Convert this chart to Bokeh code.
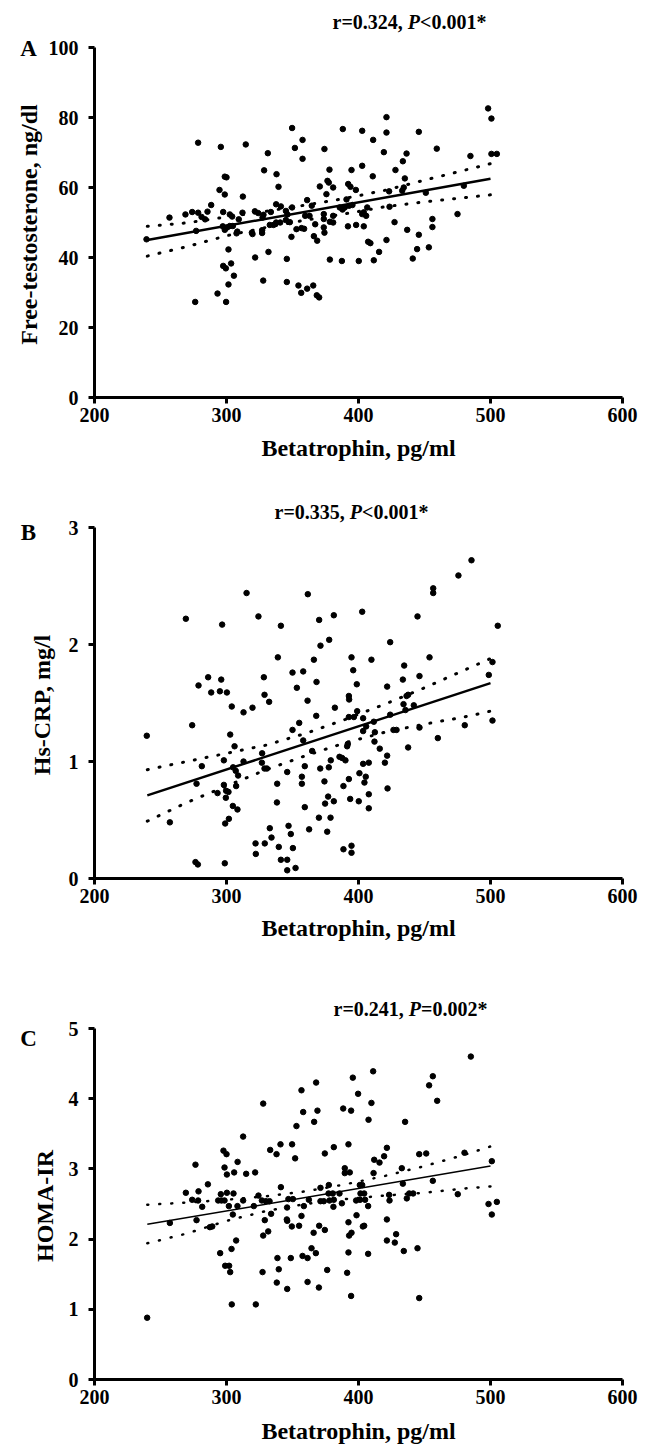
import math
from bokeh.plotting import figure
from bokeh.models import Range1d, Label
from bokeh.layouts import column
from bokeh.embed import file_html
from bokeh.resources import INLINE

FONT = "Liberation Serif"

x_ticks = [200, 300, 400, 500, 600]
a_y_ticks = [0, 20, 40, 60, 80, 100]
b_y_ticks = [0, 1, 2, 3]
c_y_ticks = [0, 1, 2, 3, 4, 5]

x_label = "Betatrophin, pg/ml"
a_label = "Free-testosterone, ng/dl"
b_label = "Hs-CRP, mg/l"
c_label = "HOMA-IR"

a_title = ["r=0.324, ", "P", "<0.001*"]
b_title = ["r=0.335, ", "P", "<0.001*"]
c_title = ["r=0.241, ", "P", "=0.002*"]

# Panel A: Free-testosterone
a_x = [239.4, 278.5, 295.7, 314.6, 349.7, 351.8, 357.6, 357.6, 374.2, 331.3, 328.5, 337.9, 339.4, 298.7, 300.0,
       294.7, 298.7, 312.4, 288.4, 285.6, 274.0, 278.5, 268.9, 256.8, 281.1, 283.8, 297.5, 302.5, 304.3, 309.3,
       312.1, 321.5, 324.0, 328.0, 327.3, 333.6, 337.6, 341.2, 345.0, 349.7, 346.2, 361.1, 364.6, 370.7, 277.0,
       297.2, 298.7, 300.5, 302.5, 304.8, 308.2, 307.6, 319.2, 319.7, 327.0, 327.0, 332.8, 335.6, 337.6, 340.7,
       345.0, 348.0, 353.0, 356.8, 358.8, 349.2, 366.2, 368.7, 367.2, 359.6, 362.9, 301.5, 321.7, 331.8, 345.7,
       297.5, 299.5, 303.5, 305.6, 301.5, 293.2, 299.7, 276.3, 327.8, 345.7, 354.5, 356.6, 361.1, 365.7, 368.4,
       370.2, 498.2, 500.7, 500.7, 504.8, 421.2, 421.2, 388.1, 402.8, 411.1, 445.7, 419.2, 459.3, 436.4, 433.6,
       484.8, 378.0, 394.7, 402.8, 428.0, 410.8, 435.1, 376.5, 377.5, 380.8, 392.2, 393.9, 398.0, 375.7, 423.2,
       433.1, 434.3, 479.8, 451.0, 390.9, 385.8, 387.9, 389.6, 392.9, 395.4, 404.0, 405.8, 402.8, 406.6, 423.5,
       373.7, 373.7, 380.8, 380.8, 378.3, 392.0, 398.2, 404.0, 373.7, 374.2, 427.3, 475.0, 456.0, 456.0, 436.9,
       445.7, 407.3, 409.0, 421.2, 415.6, 444.4, 453.3, 441.1, 378.3, 387.4, 400.2, 411.6]
a_y = [45.2, 72.8, 71.6, 72.3, 77.0, 71.3, 73.6, 68.2, 71.0, 69.8, 64.9, 63.8, 60.2, 63.1, 62.9,
       59.3, 58.0, 57.4, 55.0, 53.1, 53.0, 52.8, 52.3, 51.4, 51.6, 50.9, 53.0, 52.3, 51.7, 50.9,
       52.8, 53.2, 52.7, 52.2, 51.4, 53.0, 55.2, 54.6, 53.3, 54.3, 52.3, 56.4, 54.8, 60.3, 47.6,
       48.9, 47.9, 48.6, 49.0, 49.0, 47.4, 46.9, 47.1, 46.7, 47.8, 47.0, 49.3, 49.3, 50.0, 50.0,
       50.7, 50.1, 48.1, 48.4, 48.2, 45.9, 46.1, 44.8, 49.5, 51.9, 51.9, 42.3, 40.0, 41.6, 39.6,
       37.6, 36.9, 38.3, 34.8, 32.3, 29.7, 27.3, 27.3, 33.4, 33.0, 32.0, 29.9, 31.1, 32.0, 29.2,
       28.6, 82.6, 79.7, 69.6, 69.6, 80.1, 75.7, 76.7, 76.2, 73.6, 75.9, 70.1, 71.1, 69.7, 67.5,
       69.0, 65.1, 65.0, 66.2, 65.0, 63.2, 62.6, 61.9, 61.4, 60.0, 61.0, 60.2, 59.3, 58.1, 58.9,
       59.1, 60.0, 60.5, 58.5, 56.6, 54.3, 53.7, 54.3, 54.8, 55.0, 52.9, 51.9, 52.4, 54.3, 54.5,
       52.4, 51.0, 51.9, 50.0, 50.2, 48.9, 49.3, 48.9, 48.6, 47.1, 50.1, 52.4, 51.0, 48.7, 47.9,
       46.5, 44.5, 44.1, 45.0, 41.6, 42.4, 42.9, 39.7, 39.4, 39.0, 39.0, 39.2]

# Panel B: Hs-CRP
b_x = [239.6, 269.2, 296.7, 315.2, 324.2, 341.2, 361.6, 370.2, 377.8, 371.2, 338.9, 366.2, 350.0, 358.1, 328.3,
       353.3, 368.2, 361.4, 278.8, 286.1, 296.0, 288.4, 295.0, 300.3, 304.0, 312.9, 319.7, 328.8, 332.3, 274.0,
       302.8, 306.1, 355.1, 350.0, 358.1, 368.0, 364.9, 327.0, 326.8, 328.8, 330.6, 312.9, 298.0, 305.0, 307.0,
       308.8, 307.3, 298.0, 299.7, 301.5, 299.5, 293.2, 281.3, 277.3, 304.8, 308.3, 301.8, 299.0, 257.1, 338.4,
       338.2, 346.0, 357.1, 357.1, 359.3, 371.0, 359.3, 362.6, 370.0, 332.8, 322.0, 329.0, 334.1, 322.2, 347.0,
       348.7, 339.6, 350.3, 341.2, 346.0, 346.0, 352.3, 276.5, 278.3, 298.7, 485.6, 475.7, 456.6, 456.6, 505.5,
       444.7, 402.8, 381.3, 424.0, 394.7, 409.8, 453.8, 396.0, 434.6, 501.5, 498.7, 398.7, 446.2, 433.6, 392.7,
       392.9, 421.7, 437.6, 436.4, 434.1, 435.6, 441.9, 382.1, 399.0, 392.7, 396.5, 403.5, 424.0, 411.6, 412.4,
       403.5, 405.8, 426.5, 428.8, 446.2, 480.5, 501.5, 460.1, 437.6, 412.1, 416.1, 391.9, 391.4, 385.6, 387.6,
       390.1, 379.0, 377.5, 421.7, 420.0, 403.5, 407.8, 374.2, 392.7, 388.6, 400.7, 405.5, 404.5, 422.0, 377.0,
       374.7, 381.3, 393.7, 400.2, 407.8, 407.8, 378.8, 376.3, 388.6, 394.7, 394.7]
b_y = [1.22, 2.22, 2.17, 2.44, 2.24, 2.16, 2.43, 2.21, 2.04, 1.99, 1.89, 1.87, 1.76, 1.77, 1.72,
       1.63, 1.68, 1.52, 1.65, 1.72, 1.70, 1.59, 1.60, 1.59, 1.47, 1.42, 1.46, 1.57, 1.51, 1.31,
       1.23, 1.13, 1.33, 1.27, 1.18, 1.39, 1.09, 1.07, 0.99, 0.94, 0.94, 1.00, 1.01, 0.95, 0.92,
       0.88, 0.79, 0.80, 0.75, 0.74, 0.69, 0.73, 0.96, 0.81, 0.62, 0.59, 0.51, 0.47, 0.48, 0.81,
       0.65, 0.91, 0.87, 0.81, 0.96, 0.94, 0.61, 0.42, 0.52, 0.43, 0.30, 0.30, 0.35, 0.21, 0.45,
       0.38, 0.27, 0.26, 0.16, 0.16, 0.07, 0.09, 0.14, 0.12, 0.13, 2.72, 2.59, 2.48, 2.44, 2.16,
       2.24, 2.28, 2.25, 2.02, 1.89, 1.87, 1.89, 1.78, 1.82, 1.85, 1.74, 1.66, 1.73, 1.70, 1.56,
       1.53, 1.64, 1.57, 1.56, 1.49, 1.44, 1.48, 1.46, 1.43, 1.38, 1.38, 1.37, 1.40, 1.34, 1.25,
       1.26, 1.30, 1.27, 1.27, 1.29, 1.31, 1.35, 1.20, 1.12, 1.17, 1.11, 1.15, 1.13, 1.04, 1.03,
       1.01, 1.01, 0.95, 1.05, 0.99, 0.98, 0.99, 0.83, 0.85, 0.79, 0.90, 0.87, 0.82, 0.77, 0.70,
       0.64, 0.66, 0.68, 0.66, 0.72, 0.60, 0.52, 0.40, 0.25, 0.28, 0.22]

# Panel C: HOMA-IR
c_x = [239.9, 367.9, 356.8, 358.1, 368.9, 366.4, 353.0, 327.8, 312.6, 333.1, 337.9, 340.9, 349.7, 352.0, 374.5,
       297.7, 300.0, 276.5, 298.5, 300.3, 305.8, 308.4, 314.9, 321.7, 285.9, 269.2, 278.8, 274.0, 278.5, 281.6,
       295.7, 300.3, 305.3, 293.7, 296.2, 298.5, 301.8, 308.3, 304.8, 312.6, 324.2, 326.8, 329.8, 332.6, 341.2,
       320.7, 333.8, 329.0, 345.9, 346.9, 350.3, 345.7, 346.0, 349.5, 355.0, 356.8, 358.6, 362.4, 366.0, 370.2,
       374.5, 277.3, 257.1, 287.4, 289.2, 331.6, 327.8, 307.3, 295.2, 303.8, 299.0, 302.0, 302.8, 327.3, 338.6,
       339.6, 348.7, 357.6, 361.4, 364.4, 367.7, 376.3, 338.1, 346.0, 361.4, 370.0, 304.0, 322.2, 485.1, 411.1,
       395.7, 456.3, 453.5, 459.6, 399.7, 409.8, 388.4, 394.4, 407.6, 435.3, 381.3, 392.4, 421.5, 419.4, 415.9,
       411.9, 446.0, 451.3, 480.3, 501.0, 389.6, 389.6, 393.4, 411.4, 432.8, 371.2, 377.5, 377.3, 380.5, 385.6,
       401.0, 402.8, 401.5, 404.3, 371.2, 373.7, 378.0, 381.3, 387.4, 381.0, 398.2, 401.2, 405.0, 407.3, 423.2,
       423.5, 433.6, 436.6, 438.4, 441.4, 456.3, 475.2, 498.5, 504.8, 501.0, 398.5, 392.4, 392.9, 394.7, 403.3,
       404.3, 421.5, 421.5, 427.5, 428.5, 434.3, 444.7, 392.4, 407.3, 391.4, 394.4, 446.0]
c_y = [0.88, 4.23, 4.12, 3.81, 3.83, 3.67, 3.61, 3.93, 3.46, 3.27, 3.21, 3.35, 3.35, 3.15, 3.22,
       3.26, 3.21, 3.06, 3.02, 2.92, 2.95, 3.10, 2.93, 2.95, 2.78, 2.66, 2.68, 2.56, 2.55, 2.46,
       2.64, 2.66, 2.65, 2.55, 2.55, 2.55, 2.47, 2.47, 2.35, 2.55, 2.62, 2.55, 2.54, 2.54, 2.74,
       2.47, 2.36, 2.27, 2.45, 2.57, 2.57, 2.28, 2.26, 2.18, 2.19, 2.33, 2.47, 2.56, 2.09, 2.19,
       2.13, 2.27, 2.23, 2.17, 2.18, 2.11, 2.05, 1.98, 1.80, 1.86, 1.62, 1.62, 1.53, 1.53, 1.73,
       1.57, 1.73, 1.76, 1.73, 1.87, 1.80, 1.56, 1.38, 1.29, 1.39, 1.31, 1.07, 1.07, 4.60, 4.39,
       4.30, 4.32, 4.19, 3.97, 4.07, 3.94, 3.86, 3.83, 3.70, 3.67, 3.31, 3.35, 3.30, 3.18, 3.09,
       3.13, 3.21, 3.22, 3.23, 3.11, 3.01, 2.94, 2.95, 2.94, 3.01, 2.73, 2.77, 2.65, 2.65, 2.65,
       2.77, 2.77, 2.65, 2.65, 2.54, 2.54, 2.55, 2.56, 2.51, 2.46, 2.55, 2.56, 2.56, 2.47, 2.63,
       2.55, 2.79, 2.58, 2.65, 2.65, 2.83, 2.64, 2.50, 2.53, 2.35, 2.34, 2.24, 2.05, 2.09, 2.18,
       2.19, 2.28, 1.98, 1.95, 2.07, 1.83, 1.87, 1.81, 1.79, 1.52, 1.19, 1.16]

# regression lines and 95% confidence bands
fit_x = [240, 500]
a_fit = [45.0, 62.5]
b_fit = [0.71, 1.67]
c_fit = [2.21, 3.04]

band_x = [240, 270, 300, 330, 360, 390, 420, 450, 480, 500]
a_upper = [48.9, 49.9, 51.6, 53.2, 55.0, 56.9, 59.2, 62.1, 64.9, 66.8]
a_lower = [40.4, 43.1, 46.2, 48.6, 50.7, 52.5, 54.5, 55.9, 57.1, 57.9]
b_upper = [0.93, 1.00, 1.07, 1.14, 1.24, 1.36, 1.49, 1.63, 1.78, 1.88]
b_lower = [0.49, 0.65, 0.79, 0.93, 1.05, 1.16, 1.25, 1.32, 1.38, 1.43]
c_upper = [2.49, 2.52, 2.56, 2.61, 2.68, 2.78, 2.90, 3.04, 3.20, 3.32]
c_lower = [1.94, 2.08, 2.26, 2.40, 2.50, 2.57, 2.62, 2.66, 2.72, 2.75]

# approximate advance widths (em) of Liberation Serif Bold, for placing the mixed-style title
CW = {"r": 0.444, "=": 0.570, "<": 0.570, ".": 0.25, ",": 0.25, " ": 0.25, "*": 0.5, "P": 0.611}

# page geometry (pixels)
PX_PER_X = 1.32      # horizontal pixels per data unit
AXIS_PX = 94         # page x of the y axis (x = 200)
W = 646


def text_w(s, fs):
    return sum(CW.get(ch, 0.5) for ch in s) * fs


def px_to_x(px):
    return 200 + (px - AXIS_PX) / PX_PER_X


def panel(xs, ys, fit_y, up, lo, ymax, yticks, ylabel, letter, title, title_cx_px,
          height, zero_px, axis_px, title_cy_px, letter_cy_px, ylab_cx_px, xlab_cy_px, fit_w, band_w):
    s = axis_px / ymax  # pixels per y unit

    def py(px_from_top):
        return (zero_px - px_from_top) / s

    p = figure(width=W, height=height,
               x_range=Range1d(px_to_x(0), px_to_x(W)),
               y_range=Range1d(py(height), py(0)),
               output_backend="svg", toolbar_location=None,
               min_border_left=0, min_border_right=0, min_border_top=0, min_border_bottom=0)
    p.outline_line_color = None
    p.xgrid.visible = False
    p.ygrid.visible = False
    p.background_fill_color = "white"
    p.border_fill_color = "white"

    p.xaxis.ticker = x_ticks
    p.yaxis.ticker = yticks
    p.xaxis.bounds = (200, 600)
    p.yaxis.bounds = (0, ymax)
    p.yaxis.fixed_location = 200
    p.xaxis.fixed_location = 0
    for ax in (p.xaxis, p.yaxis):
        ax.axis_line_width = 3
        ax.axis_line_color = "black"
        ax.major_tick_line_width = 3
        ax.major_tick_line_color = "black"
        ax.major_tick_out = 6
        ax.major_tick_in = 0
        ax.minor_tick_out = 0
        ax.minor_tick_in = 0
        ax.major_label_text_font = FONT
        ax.major_label_text_font_style = "bold"
        ax.major_label_text_font_size = "20px"
        ax.major_label_text_color = "black"
    p.xaxis.major_label_standoff = 4
    p.yaxis.major_label_standoff = 10

    p.line(band_x, up, line_color="black", line_width=band_w, line_dash="1 11", line_cap="round")
    p.line(band_x, lo, line_color="black", line_width=band_w, line_dash="1 11", line_cap="round")
    p.line(fit_x, fit_y, line_color="black", line_width=fit_w)
    p.scatter(xs, ys, marker="circle", size=5.5, fill_color="black", line_color="black")

    # axis titles
    p.add_layout(Label(x=400, y=py(xlab_cy_px), text=x_label, text_align="center", text_baseline="middle",
                       text_font=FONT, text_font_style="bold", text_font_size="24px", text_color="black"))
    p.add_layout(Label(x=px_to_x(ylab_cx_px), y=py(zero_px - axis_px / 2 + 2), text=ylabel, angle=math.pi / 2,
                       text_align="center", text_baseline="middle",
                       text_font=FONT, text_font_style="bold", text_font_size="24px", text_color="black"))
    # panel letter
    p.add_layout(Label(x=px_to_x(28), y=py(letter_cy_px), text=letter, text_align="center",
                       text_baseline="middle", text_font=FONT, text_font_style="bold",
                       text_font_size="23px", text_color="black"))
    # title with italic P
    fs = 20
    total = sum(text_w(t, fs) for t in title)
    off = -total / 2
    styles = ["bold", "bold italic", "bold"]
    for t, st in zip(title, styles):
        p.add_layout(Label(x=px_to_x(title_cx_px), y=py(title_cy_px), x_offset=off, text=t, text_align="left",
                           text_baseline="middle", text_font=FONT, text_font_style=st,
                           text_font_size=f"{fs}px", text_color="black"))
        off += text_w(t, fs)
    return p


pa = panel(a_x, a_y, a_fit, a_upper, a_lower, 100, a_y_ticks, a_label, "A", a_title, 409,
           height=480, zero_px=397, axis_px=350, title_cy_px=21, letter_cy_px=48, ylab_cx_px=28,
           xlab_cy_px=447, fit_w=2.5, band_w=3)
pb = panel(b_x, b_y, b_fit, b_upper, b_lower, 3, b_y_ticks, b_label, "B", b_title, 351,
           height=480, zero_px=398, axis_px=351, title_cy_px=31, letter_cy_px=52, ylab_cx_px=41,
           xlab_cy_px=447, fit_w=2.5, band_w=3)
pc = panel(c_x, c_y, c_fit, c_upper, c_lower, 5, c_y_ticks, c_label, "C", c_title, 410,
           height=484, zero_px=419, axis_px=351, title_cy_px=48, letter_cy_px=78, ylab_cx_px=44,
           xlab_cy_px=470, fit_w=1.5, band_w=2.5)

layout = column(pa, pb, pc, spacing=0)
open("out.html", "w").write(file_html(layout, INLINE))
